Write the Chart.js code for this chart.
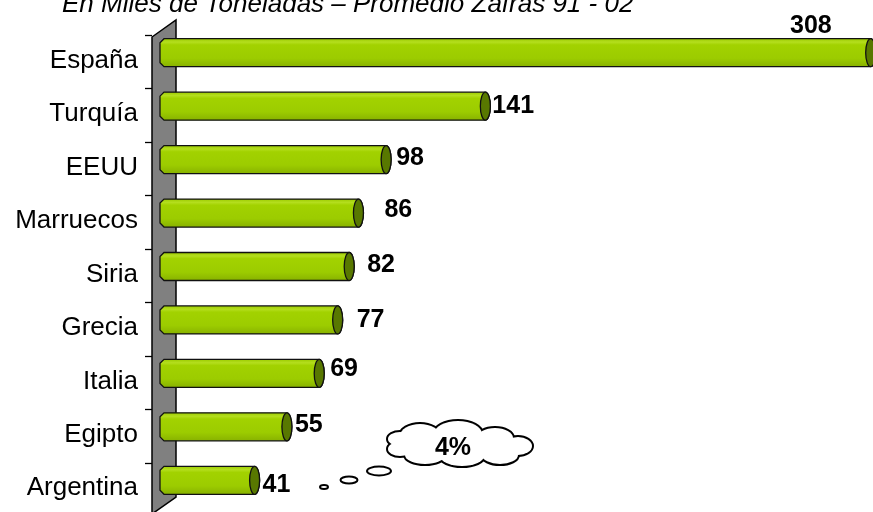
<!DOCTYPE html>
<html>
<head>
<meta charset="utf-8">
<script src="https://cdn.jsdelivr.net/npm/chart.js@4.4.1/dist/chart.umd.min.js"></script>
<style>
  html, body { margin: 0; background: #fff; }
  #wrap { width: 873px; height: 512px; position: relative; }
</style>
</head>
<body>
<div id="wrap"><canvas id="chart"></canvas></div>
<script>
const categories = ['España', 'Turquía', 'EEUU', 'Marruecos', 'Siria', 'Grecia', 'Italia', 'Egipto', 'Argentina'];
const values = [308, 141, 98, 86, 82, 77, 69, 55, 41];
const title = 'En Miles de Toneladas – Promedio Zafras 91 - 02';
const calloutText = '4%';

const FONT = '"Liberation Sans", Arial, sans-serif';

function drawText(ctx, text, x, y, font, align, baseline) {
  ctx.save();
  ctx.font = font;
  ctx.textAlign = align;
  ctx.textBaseline = baseline || 'middle';
  ctx.fillStyle = '#000';
  ctx.fillText(text, x, y);
  ctx.restore();
}

// grey back wall, tick marks and category names (they sit ~8px lower than the bars)
const wall = {
  id: 'wall',
  beforeDatasetsDraw(chart) {
    const { ctx, chartArea: ca } = chart;
    const y = chart.scales.y;
    const l = ca.left - 8, r = ca.left + 16;
    ctx.save();
    ctx.beginPath();
    ctx.moveTo(l, 37);
    ctx.lineTo(r, 20);
    ctx.lineTo(r, 497);
    ctx.lineTo(l, 514);
    ctx.closePath();
    ctx.fillStyle = '#808080';
    ctx.fill();
    ctx.lineWidth = 1.5;
    ctx.strokeStyle = '#000';
    ctx.stroke();

    const step = (ca.bottom - ca.top) / categories.length;
    ctx.lineWidth = 1.3;
    for (let i = 0; i <= categories.length; i++) {
      const ty = Math.round(ca.top + i * step + 9) + 0.5;
      ctx.beginPath();
      ctx.moveTo(l - 7, ty);
      ctx.lineTo(l, ty);
      ctx.stroke();
    }
    categories.forEach((c, i) => {
      drawText(ctx, c, l - 14, y.getPixelForValue(i) + 8, '26px ' + FONT, 'right');
    });
    ctx.restore();
  }
};

// cylinder look on top of the library's bar geometry
const tubes = {
  id: 'tubes',
  afterDatasetsDraw(chart, args, opts) {
    const { ctx } = chart;
    const meta = chart.getDatasetMeta(0);
    meta.data.forEach((bar, i) => {
      const { x, y, base, height } = bar.getProps(['x', 'y', 'base', 'height'], true);
      const t = y - height / 2, b = y + height / 2, c = 4, rx = 5;
      const g = ctx.createLinearGradient(0, t, 0, b);
      g.addColorStop(0, '#9ccc00');
      g.addColorStop(0.12, '#b4de1e');
      g.addColorStop(0.22, '#a2d200');
      g.addColorStop(0.7, '#9ccc00');
      g.addColorStop(1, '#88b200');
      ctx.save();
      ctx.beginPath();
      ctx.moveTo(base + c, t);
      ctx.lineTo(x, t);
      ctx.ellipse(x, y, rx, height / 2, 0, -Math.PI / 2, Math.PI / 2);
      ctx.lineTo(base + c, b);
      ctx.lineTo(base, b - c);
      ctx.lineTo(base, t + c);
      ctx.closePath();
      ctx.fillStyle = g;
      ctx.fill();
      ctx.lineWidth = 1.3;
      ctx.strokeStyle = '#111';
      ctx.stroke();

      ctx.beginPath();
      ctx.ellipse(x, y, rx, height / 2, 0, 0, Math.PI * 2);
      ctx.fillStyle = '#587800';
      ctx.fill();
      ctx.stroke();
      ctx.restore();

      const [dx, dy] = opts.shift[i];
      drawText(ctx, String(values[i]), x + dx, y + dy, 'bold 25px ' + FONT, i === 0 ? 'right' : 'left');
    });
  }
};

// title and the thought-bubble callout
const extras = {
  id: 'extras',
  afterDraw(chart, args, opts) {
    const { ctx } = chart;
    drawText(ctx, title, 62, 12, 'italic 26px ' + FONT, 'left', 'alphabetic');

    ctx.save();
    ctx.strokeStyle = '#000';
    ctx.fillStyle = '#fff';
    ctx.lineWidth = 2;
    opts.bubbles.forEach(([ex, ey, erx, ery]) => {
      ctx.beginPath();
      ctx.ellipse(ex, ey, erx, ery, 0, 0, Math.PI * 2);
      ctx.fill();
      ctx.stroke();
    });
    // cloud: stroke the lobes thick, then fill them so only the outer edge stays
    ctx.lineWidth = 4;
    opts.lobes.forEach(([cx, cy, rx, ry]) => {
      ctx.beginPath();
      ctx.ellipse(cx, cy, rx, ry, 0, 0, Math.PI * 2);
      ctx.stroke();
    });
    opts.lobes.forEach(([cx, cy, rx, ry]) => {
      ctx.beginPath();
      ctx.ellipse(cx, cy, rx, ry, 0, 0, Math.PI * 2);
      ctx.fill();
    });
    ctx.beginPath();
    ctx.ellipse(460, 446, 60, 13, 0, 0, Math.PI * 2);
    ctx.fill();
    ctx.restore();
    drawText(ctx, calloutText, 453, 448, 'bold 25px ' + FONT, 'center');
  }
};

new Chart(document.getElementById('chart'), {
  type: 'bar',
  data: {
    labels: categories,
    datasets: [{
      data: values,
      backgroundColor: 'rgba(0,0,0,0)',
      borderWidth: 0,
      barPercentage: 0.524,
      categoryPercentage: 1,
    }],
  },
  options: {
    indexAxis: 'y',
    responsive: true,
    maintainAspectRatio: false,
    animation: false,
    layout: { padding: { left: 160, right: 0, top: 26, bottom: 5 } },
    scales: {
      x: { display: false, min: 0, max: 309 },
      y: { display: false },
    },
    plugins: {
      legend: { display: false },
      tooltip: { enabled: false },
      tubes: {
        shift: [[-39, -27], [7, 0], [10, -2], [26, -3], [18, -1], [19, 0], [11, -4], [8, -2], [8, 5]],
      },
      extras: {
        bubbles: [[324, 487, 4, 2], [349, 480, 8.5, 3.5], [379, 471, 12, 4.5]],
        lobes: [
          [420, 436, 20, 12], [458, 434, 24, 13], [495, 438, 18, 10],
          [518, 446, 14, 9], [500, 455, 18, 9], [462, 456, 22, 10],
          [425, 455, 20, 9], [400, 449, 12, 7], [400, 439, 12, 7],
        ],
      },
    },
  },
  plugins: [wall, tubes, extras],
});
</script>
</body>
</html>
